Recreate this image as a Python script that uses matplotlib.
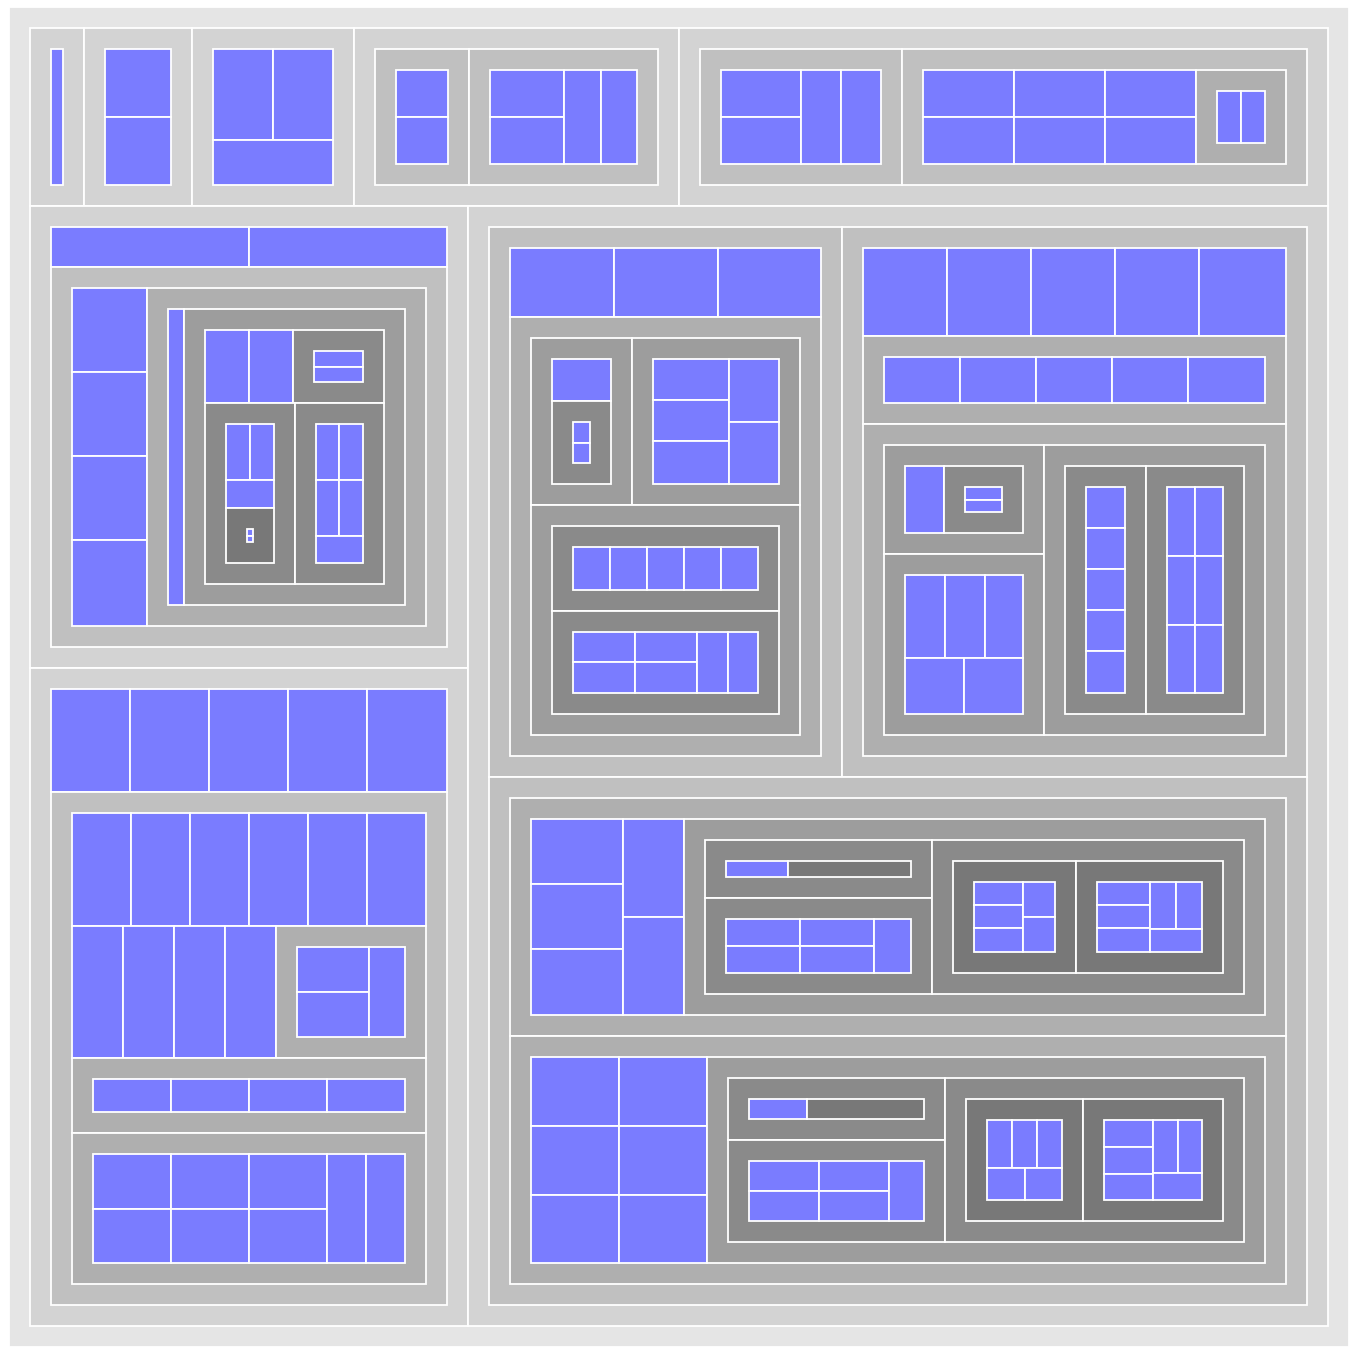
import math
import matplotlib
matplotlib.use("Agg")
import matplotlib.pyplot as plt
from matplotlib.patches import Rectangle

# hierarchy: every leaf counts 1, a nested list is a group
# (children listed in the order they are tiled: smallest first)
a1 = [1]
a2 = [1, 1]
a3 = [1, 1, 1]
a4 = [[1, 1], [1, 1, 1, 1]]
a5 = [[1, 1, 1, 1], [1, 1, 1, 1, 1, 1, [1, 1]]]
e_group = [1, 1, [1, 1], [1, 1, 1, [1, 1]], [1, 1, 1, 1, 1]]
a6 = [1, 1, [1, 1, 1, 1, [1, e_group]]]
a7 = [1, 1, 1, 1, 1,
      [1, 1, 1, 1, 1, 1, 1, 1, 1, 1, [1, 1, 1], [1, 1, 1, 1],
       [1, 1, 1, 1, 1, 1, 1, 1]]]
k_group = [[1, [1, 1]], [1, 1, 1, 1, 1], [[1, 1, 1, 1, 1], [1, 1, 1, 1, 1, 1]]]
i1 = [1, 1, 1, k_group]
i2 = [1, 1, 1, 1, 1, [1, 1, 1, 1, 1], k_group]
i3 = [[1, 1, 1, 1, 1, k_group], [1, 1, 1, 1, 1, 1, k_group]]
a8 = [i1, i2, i3]
tree = [a1, a2, a3, a4, a5, a6, a7, a8]

depth_colors = ['#e5e5e5', '#d3d3d3', '#c0c0c0', '#afafaf', '#9d9d9d', '#8a8a8a', '#787878']
leaf_color = '#7a7cff'

RATIO = 0.5 * (1 + math.sqrt(5))
PAD = 21
SIZE = 1340
OX, OY = 9, 7


def jsround(v):
    return math.floor(v + 0.5)


def total(node):
    if isinstance(node, list):
        return sum(total(c) for c in node)
    return node


def worst(areas, s, u):
    rmin, rmax = float('inf'), 0.0
    for r in areas:
        if not r:
            continue
        rmin = min(rmin, r)
        rmax = max(rmax, r)
    s2, u2 = s * s, u * u
    if not s2 or u2 * rmin == 0:
        return float('inf')
    return max(u2 * rmax * RATIO / s2, s2 / (u2 * rmin * RATIO))


def position(idx, areas, s, u, rect, boxes, flush):
    x, y = rect[0], rect[1]
    v = jsround(s / u) if u else 0
    if u == rect[2]:
        if flush or v > rect[3]:
            v = rect[3]
        for i in idx:
            w = min(rect[0] + rect[2] - x, jsround(areas[i] / v) if v else 0)
            boxes[i] = [x, y, w, v]
            x += w
        boxes[idx[-1]][2] += rect[0] + rect[2] - x
        rect[1] += v
        rect[3] -= v
    else:
        if flush or v > rect[2]:
            v = rect[2]
        for i in idx:
            h = min(rect[1] + rect[3] - y, jsround(areas[i] / v) if v else 0)
            boxes[i] = [x, y, v, h]
            y += h
        boxes[idx[-1]][3] += rect[1] + rect[3] - y
        rect[0] += v
        rect[2] -= v


# squarified tiling with rounding, as in the d3 v3 treemap layout
def squarify(vals, x, y, dx, dy):
    n = len(vals)
    value = sum(vals)
    k = dx * dy / value if value else 0
    areas = [v * k for v in vals]
    rect = [x, y, dx, dy]
    boxes = [None] * n
    row, s, best = [], 0.0, float('inf')
    u = min(dx, dy)
    i = 0
    while i < n:
        row.append(i)
        s += areas[i]
        score = worst([areas[j] for j in row], s, u)
        if score <= best:
            best = score
            i += 1
        else:
            row.pop()
            s -= areas[i]
            position(row, areas, s, u, rect, boxes, False)
            u = min(rect[2], rect[3])
            row, s, best = [], 0.0, float('inf')
    if row:
        position(row, areas, s, u, rect, boxes, True)
    return boxes


def place(node, x, y, dx, dy, depth, out):
    is_group = isinstance(node, list)
    out.append((x, y, dx, dy, depth, is_group))
    if not is_group:
        return
    px, py, pdx, pdy = x + PAD, y + PAD, dx - 2 * PAD, dy - 2 * PAD
    if pdx < 0:
        px += pdx / 2
        pdx = 0
    if pdy < 0:
        py += pdy / 2
        pdy = 0
    vals = [total(c) for c in node]
    for child, b in zip(node, squarify(vals, px, py, pdx, pdy)):
        place(child, b[0], b[1], b[2], b[3], depth + 1, out)


cells = []
place(tree, 0, 0, SIZE, SIZE, 0, cells)

fig = plt.figure(figsize=(13.58, 13.52), dpi=100)
ax = fig.add_axes([0, 0, 1, 1])
ax.set_xlim(0, 1358)
ax.set_ylim(1352, 0)
ax.axis('off')

for x, y, dx, dy, depth, is_group in cells:
    if dx <= 0 or dy <= 0:
        continue
    color = depth_colors[min(depth, len(depth_colors) - 1)] if is_group else leaf_color
    ax.add_patch(Rectangle((x + OX, y + OY), dx, dy,
                           facecolor=color, edgecolor='white', linewidth=1.3))

fig.savefig('out.png', dpi=100)
